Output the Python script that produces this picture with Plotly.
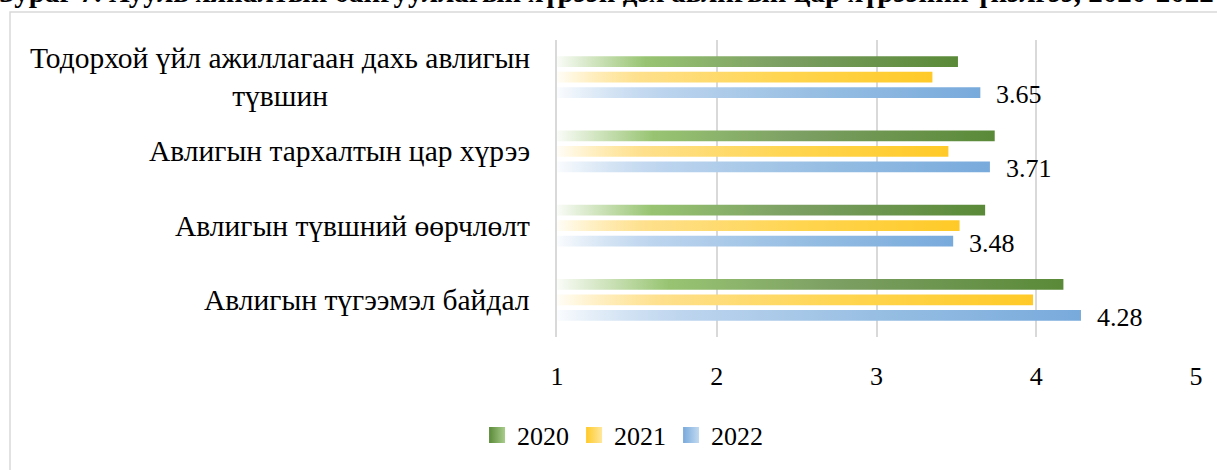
import plotly.graph_objects as go

# ---- data ----
categories = [
    "Тодорхой үйл ажиллагаан дахь авлигын<br>түвшин",
    "Авлигын тархалтын цар хүрээ",
    "Авлигын түвшний өөрчлөлт",
    "Авлигын түгээмэл байдал",
]
years = ["2020", "2021", "2022"]
v2020 = [3.51, 3.74, 3.68, 4.17]
v2021 = [3.35, 3.45, 3.52, 3.98]
v2022 = [3.65, 3.71, 3.48, 4.28]
x_ticks = [1, 2, 3, 4, 5]
title_text = "Зураг 7. Хууль хяналтын байгууллагын хүрээн дэх авлигын цар хүрээний үнэлгээ, 2020-2022"

# ---- layout constants ----
W, H = 1217, 470
ML, MR, MT, MB = 557, 21, 40, 133
PW, PH = W - ML - MR, H - MT - MB
FONT = "Liberation Serif"


def px_x(px):
    return (px - ML) / PW


def px_y(py):
    return 1 - (py - MT) / PH


series = [
    (years[0], v2020, "#5a8a38", "#a9cd8c",
     [[0, "rgba(150,195,110,0.05)"], [0.22, "#98c472"], [0.55, "#7c9f63"], [1, "#5a8a38"]]),
    (years[1], v2021, "#ffca28", "#ffe79c",
     [[0, "rgba(255,215,100,0.05)"], [0.22, "#fee08c"], [0.6, "#ffd550"], [1, "#ffca28"]]),
    (years[2], v2022, "#78aadc", "#c2d9f0",
     [[0, "rgba(160,195,230,0.05)"], [0.25, "#bcd4ee"], [0.6, "#98bfe3"], [1, "#78aadc"]]),
]

fig = go.Figure()
step = 0.209
half = 0.072
for j, (name, vals, solid, tint, cs) in enumerate(series):
    off = (j - 1) * step
    for i, v in enumerate(vals):
        yc = i + off
        fig.add_trace(go.Scatter(
            x=[x_ticks[0], v, v, x_ticks[0], x_ticks[0]],
            y=[yc - half, yc - half, yc + half, yc + half, yc - half],
            mode="lines", line=dict(width=0),
            fill="toself",
            fillgradient=dict(type="horizontal", colorscale=cs, start=x_ticks[0], stop=v),
            name=name, legendgroup=name, showlegend=False,
            hoverinfo="skip",
        ))
    # legend entry (square gradient swatch)
    fig.add_trace(go.Scatter(
        x=[None], y=[None], mode="markers", name=name, legendgroup=name,
        marker=dict(symbol="square", size=16, color=solid,
                    gradient=dict(type="horizontal", color=tint),
                    line=dict(width=0)),
        showlegend=True, hoverinfo="skip",
    ))

annotations = []
# data labels for 2022
for i, v in enumerate(v2022):
    annotations.append(dict(
        x=v, y=i + step, xref="x", yref="y", text=f"{v:.2f}",
        showarrow=False, xanchor="left", yanchor="middle", xshift=14, yshift=-2,
        font=dict(family=FONT, size=26, color="#000000"),
    ))
# category labels
for i, c in enumerate(categories):
    annotations.append(dict(
        x=0, y=i, xref="paper", yref="y", text=c, showarrow=False,
        xanchor="right", yanchor="middle", xshift=-25, align="center",
        font=dict(family=FONT, size=29.5, color="#000000"),
    ))
# title (clipped at the top edge, as in the source image)
annotations.append(dict(
    x=px_x(606), y=px_y(-8), xref="paper", yref="paper", text=f"<b>{title_text}</b>",
    showarrow=False, xanchor="center", yanchor="middle",
    font=dict(family=FONT, size=29, color="#000000"),
))

fig.update_layout(
    width=W, height=H,
    margin=dict(l=ML, r=MR, t=MT, b=MB, pad=0),
    paper_bgcolor="white", plot_bgcolor="white",
    font=dict(family=FONT, size=26, color="#000000"),
    xaxis=dict(range=[1, 5], tickvals=x_ticks, showgrid=True, gridcolor="#d9d9d9", gridwidth=1.5,
               zeroline=False, showline=False, ticks="", ticklabelstandoff=21,
               tickfont=dict(family=FONT, size=26, color="#000000")),
    yaxis=dict(range=[3.5, -0.5], showticklabels=False, showgrid=False, zeroline=False,
               showline=True, linecolor="#d9d9d9", linewidth=2),
    legend=dict(orientation="h", xref="container", yref="container", x=0.392, y=1 - 435 / H,
                xanchor="left", yanchor="middle", font=dict(family=FONT, size=26),
                itemwidth=30, tracegroupgap=0, bgcolor="rgba(0,0,0,0)"),
    annotations=annotations,
    shapes=[dict(type="rect", xref="paper", yref="paper",
                 x0=px_x(10), x1=px_x(1240), y0=px_y(490), y1=px_y(12),
                 line=dict(color="#d9d9d9", width=1.5), fillcolor="rgba(0,0,0,0)", layer="below")],
    showlegend=True,
)

fig.write_html("out.html", config={"displayModeBar": False},
               post_script="document.body.style.margin='0';")
